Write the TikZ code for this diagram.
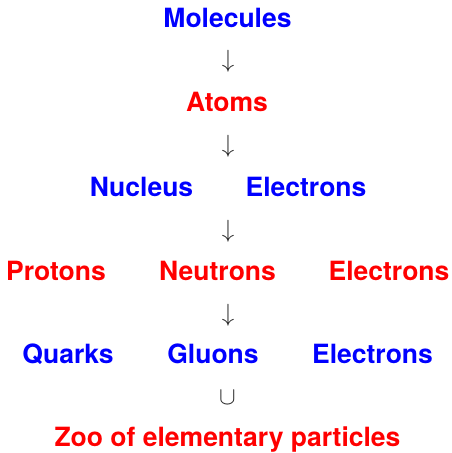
\documentclass[tikz,border=0pt]{standalone}
\usepackage{fontspec}
\setsansfont{TeX Gyre Heros}
\definecolor{tblue}{RGB}{0,0,255}
\definecolor{tred}{RGB}{255,0,0}
\tikzset{
  lbl/.style={inner sep=0pt, anchor=base, font=\sffamily\bfseries\fontsize{26.5}{30}\selectfont},
  bl/.style={lbl, text=tblue},
  rd/.style={lbl, text=tred},
  sym/.style={inner sep=0pt, anchor=center, font=\fontsize{26}{30}\selectfont, text=black!85}
}
\begin{document}
\begin{tikzpicture}[x=1pt,y=-1pt]
\useasboundingbox (0,0) rectangle (451,453);
\node[bl] (mol) at (227.5,27) {Molecules};
\node[sym] (a1) at (228,61) {$\downarrow$};
\node[rd] (atoms) at (227,111) {Atoms};
\node[sym] (a2) at (228,146) {$\downarrow$};
\node[bl] (nuc) at (141.5,196) {Nucleus};
\node[bl] (el1) at (306,196) {Electrons};
\node[sym] (a3) at (228,231) {$\downarrow$};
\node[rd] (pro) at (56,280) {Protons};
\node[rd] (neu) at (217.5,280) {Neutrons};
\node[rd] (el2) at (389,280) {Electrons};
\node[sym] (a4) at (228,315) {$\downarrow$};
\node[bl] (qua) at (68,363) {Quarks};
\node[bl] (glu) at (213,363) {Gluons};
\node[bl] (el3) at (372.5,363) {Electrons};
\node[sym] (cup) at (227.5,397.5) {$\cup$};
\node[rd] (zoo) at (227.5,446) {Zoo of elementary particles};
\end{tikzpicture}
\end{document}
